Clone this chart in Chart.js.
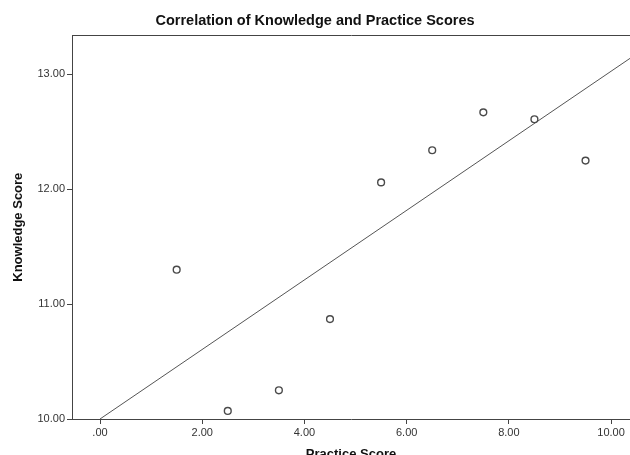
<!DOCTYPE html>
<html>
<head>
<meta charset="utf-8">
<script src="https://cdn.jsdelivr.net/npm/chart.js@4/dist/chart.umd.min.js"></script>
<style>
  html, body { margin: 0; padding: 0; background: #fff; }
  #wrap { width: 630px; height: 455px; }
</style>
</head>
<body>
<div id="wrap"><canvas id="c" width="630" height="455"></canvas></div>
<script>
// Practice score (x) and knowledge score (y) per observation
const practiceScores  = [1.5, 2.5, 3.5, 4.5, 5.5, 6.5, 7.5, 8.5, 9.5];
const knowledgeScores = [11.30, 10.07, 10.25, 10.87, 12.06, 12.34, 12.67, 12.61, 12.25];

// Fit line end points (practice, knowledge)
const fitLineX = [0, 10.37];
const fitLineY = [10.0, 13.14];

// Axis ticks
const xTickValues = [0, 2, 4, 6, 8, 10];
const xTickLabels = ['.00', '2.00', '4.00', '6.00', '8.00', '10.00'];
const yTickValues = [10, 11, 12, 13];
const yTickLabels = ['10.00', '11.00', '12.00', '13.00'];

const FONT = '"Liberation Sans", Arial, sans-serif';
const AXIS_COLOR = '#444';

const points = practiceScores.map((x, i) => ({ x: x, y: knowledgeScores[i] }));
const fitLine = fitLineX.map((x, i) => ({ x: x, y: fitLineY[i] }));

// White background and top edge of the plotting frame
const framePlugin = {
  id: 'frame',
  beforeDraw(chart) {
    const ctx = chart.ctx;
    ctx.save();
    ctx.fillStyle = '#fff';
    ctx.fillRect(0, 0, chart.width, chart.height);
    ctx.restore();
  },
  afterDraw(chart) {
    const a = chart.chartArea;
    const ctx = chart.ctx;
    ctx.save();
    ctx.strokeStyle = AXIS_COLOR;
    ctx.lineWidth = 1;
    ctx.beginPath();
    ctx.moveTo(Math.round(a.left) + 0.5, Math.round(a.top) + 0.5);
    ctx.lineTo(Math.round(a.right) + 0.5, Math.round(a.top) + 0.5);
    ctx.stroke();
    ctx.restore();
  }
};

new Chart(document.getElementById('c'), {
  type: 'scatter',
  data: {
    datasets: [
      {
        data: points,
        pointStyle: 'circle',
        pointRadius: 3.4,
        pointBorderWidth: 1.4,
        pointBorderColor: '#4a4a4a',
        pointBackgroundColor: '#fff',
        showLine: false,
        order: 1
      },
      {
        type: 'line',
        data: fitLine,
        borderColor: '#555',
        borderWidth: 1,
        pointRadius: 0,
        fill: false,
        clip: true,
        order: 2
      }
    ]
  },
  options: {
    responsive: false,
    animation: false,
    devicePixelRatio: 1,
    layout: { autoPadding: false, padding: { left: 0, right: 0, top: 0, bottom: 0 } },
    plugins: {
      legend: { display: false },
      tooltip: { enabled: false },
      title: {
        display: true,
        text: 'Correlation of Knowledge and Practice Scores',
        color: '#111',
        font: { family: FONT, size: 14.5, weight: 'bold' },
        padding: { top: 12, bottom: 6 }
      }
    },
    scales: {
      x: {
        type: 'linear',
        min: -0.548,
        max: 10.37,
        afterBuildTicks(scale) {
          scale.ticks = xTickValues.map(v => ({ value: v }));
        },
        afterFit(scale) {
          scale.height = 36;
          scale.paddingRight = 0;
          scale.paddingLeft = 0;
        },
        ticks: {
          color: '#333',
          font: { family: FONT, size: 11 },
          padding: 2,
          maxRotation: 0,
          callback(value) {
            const i = xTickValues.indexOf(value);
            return i >= 0 ? xTickLabels[i] : '';
          }
        },
        grid: {
          display: true,
          drawOnChartArea: false,
          drawTicks: true,
          tickLength: 5,
          color: AXIS_COLOR
        },
        border: { display: true, color: AXIS_COLOR, width: 1 },
        title: {
          display: true,
          text: 'Practice Score',
          color: '#111',
          font: { family: FONT, size: 13, weight: 'bold' },
          padding: { top: 0, bottom: -7 }
        }
      },
      y: {
        type: 'linear',
        min: 10,
        max: 13.34,
        afterBuildTicks(scale) {
          scale.ticks = yTickValues.map(v => ({ value: v }));
        },
        afterFit(scale) {
          scale.width = 72;
          scale.paddingTop = 0;
          scale.paddingBottom = 0;
        },
        ticks: {
          color: '#333',
          font: { family: FONT, size: 11 },
          padding: 2,
          callback(value) {
            const i = yTickValues.indexOf(value);
            return i >= 0 ? yTickLabels[i] : '';
          }
        },
        grid: {
          display: true,
          drawOnChartArea: false,
          drawTicks: true,
          tickLength: 5,
          color: AXIS_COLOR
        },
        border: { display: true, color: AXIS_COLOR, width: 1 },
        title: {
          display: true,
          text: 'Knowledge Score',
          color: '#111',
          font: { family: FONT, size: 13, weight: 'bold' },
          padding: { top: 11, bottom: 0 }
        }
      }
    }
  },
  plugins: [framePlugin]
});
</script>
</body>
</html>
